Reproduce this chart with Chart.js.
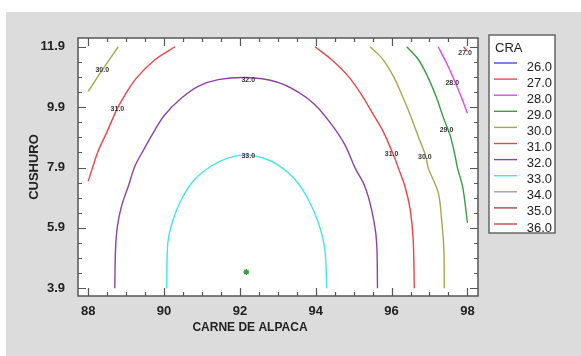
<!DOCTYPE html>
<html>
<head>
<meta charset="utf-8">
<script src="https://cdn.jsdelivr.net/npm/chart.js@4/dist/chart.umd.min.js"></script>
<style>
  html, body { margin: 0; padding: 0; background: #ffffff; }
  #wrap { width: 581px; height: 356px; }
</style>
</head>
<body>
<div id="wrap"><canvas id="cv" width="581" height="356"></canvas></div>
<script>
// Contour levels of CRA and the colour used for each level
const levels = ['26.0', '27.0', '28.0', '29.0', '30.0', '31.0', '32.0', '33.0', '34.0', '35.0', '36.0'];
const levelColors = ['#4a4ad0', '#e8484c', '#e048e4', '#3c9c46', '#a6a84a', '#e8464a', '#8c44a4', '#44e6e6', '#9a9ad4', '#a04c4c', '#c44c50'];

// Axis ticks
const xMajor = [88, 90, 92, 94, 96, 98];
const yMajor = [3.9, 5.9, 7.9, 9.9, 11.9];

// Contour traces: CARNE DE ALPACA (x) and CUSHURO (y)
const c27x = [97.90, 98.00];
const c27y = [11.90, 11.75];

const c28x = [97.23, 97.45, 97.67, 97.85, 98.00];
const c28y = [11.90, 11.36, 10.75, 10.20, 9.70];

const c29x = [96.40, 96.71, 96.97, 97.19, 97.37, 97.54, 97.67, 97.74, 97.87, 97.94, 98.00];
const c29y = [11.90, 11.47, 10.86, 10.20, 9.54, 8.99, 8.32, 7.88, 7.29, 6.70, 6.07];

const c30ax = [88.00, 88.35, 88.79];
const c30ay = [10.42, 11.09, 11.90];
const c30bx = [95.43, 95.74, 96.05, 96.27, 96.49, 96.72, 96.89, 96.97, 97.23, 97.32, 97.38, 97.39];
const c30by = [11.90, 11.53, 10.92, 10.31, 9.65, 8.88, 8.32, 7.88, 7.07, 6.18, 5.19, 3.90];

const c31ax = [88.00, 88.11, 88.26, 88.48, 88.75, 88.97, 89.27, 89.76, 90.29];
const c31ay = [7.45, 7.88, 8.44, 9.04, 9.81, 10.31, 10.86, 11.47, 11.90];
const c31bx = [93.98, 94.42, 94.86, 95.21, 95.52, 95.78, 96.05, 96.18, 96.35, 96.49, 96.57, 96.60];
const c31by = [11.90, 11.47, 10.92, 10.31, 9.65, 9.09, 8.32, 7.88, 7.29, 6.52, 5.52, 3.90];

const c32x = [88.70, 88.72, 88.77, 88.88, 89.06, 89.23, 89.49, 89.76, 90.02, 90.46, 90.90, 91.43, 92.17, 92.95, 93.54, 93.98, 94.42, 94.77, 95.04, 95.29, 95.47, 95.60, 95.63];
const c32y = [3.90, 5.19, 5.96, 6.63, 7.29, 7.94, 8.55, 9.15, 9.65, 10.20, 10.59, 10.81, 10.88, 10.74, 10.40, 9.98, 9.32, 8.65, 7.88, 7.29, 6.52, 5.52, 3.90];

const c33x = [90.07, 90.10, 90.24, 90.46, 90.81, 91.25, 91.70, 92.17, 92.65, 93.01, 93.45, 93.80, 94.07, 94.24, 94.29];
const c33y = [3.90, 5.41, 6.18, 6.85, 7.51, 7.95, 8.22, 8.32, 8.20, 7.98, 7.51, 6.85, 6.07, 5.19, 3.90];

// Stationary point of the fitted surface
const optX = [92.17];
const optY = [4.44];

// In-plot contour labels
const labelText = ['30.0', '31.0', '32.0', '33.0', '31.0', '30.0', '29.0', '28.0', '27.0'];
const labelX = [88.37, 88.77, 92.22, 92.22, 96.00, 96.88, 97.45, 97.60, 97.94];
const labelY = [11.13, 9.85, 10.79, 8.27, 8.35, 8.24, 9.13, 10.70, 11.69];

const FONT = '"Liberation Sans", Arial, Helvetica, sans-serif';

function pts(xs, ys) { return xs.map((x, i) => ({ x: x, y: ys[i] })); }
function contour(xs, ys, level) {
  return {
    data: pts(xs, ys),
    showLine: true,
    borderColor: levelColors[levels.indexOf(level)],
    borderWidth: 1.4,
    pointRadius: 0,
    tension: 0.35,
    fill: false
  };
}

const datasets = [
  contour(c27x, c27y, '27.0'),
  contour(c28x, c28y, '28.0'),
  contour(c29x, c29y, '29.0'),
  contour(c30ax, c30ay, '30.0'),
  contour(c30bx, c30by, '30.0'),
  contour(c31ax, c31ay, '31.0'),
  contour(c31bx, c31by, '31.0'),
  contour(c32x, c32y, '32.0'),
  contour(c33x, c33y, '33.0'),
  {
    data: pts(optX, optY),
    showLine: false,
    pointStyle: 'star',
    pointRadius: 3,
    borderWidth: 1.4,
    borderColor: '#3c9c46',
    backgroundColor: '#3c9c46'
  }
];

// Grey panel, white plotting area
const panelPlugin = {
  id: 'panel',
  beforeDraw(chart) {
    const c = chart.ctx, a = chart.chartArea;
    c.save();
    c.fillStyle = '#ffffff';
    c.fillRect(0, 0, chart.width, chart.height);
    c.fillStyle = '#dcdcdc';
    c.fillRect(6, 12, chart.width - 6, chart.height - 12);
    c.fillStyle = '#ffffff';
    c.fillRect(a.left, a.top, a.right - a.left, a.bottom - a.top);
    c.restore();
  }
};

// Frame with inward ticks on all four sides, contour labels, axis titles, legend
const overlayPlugin = {
  id: 'overlay',
  afterDraw(chart) {
    const c = chart.ctx, a = chart.chartArea;
    const xs = chart.scales.x, ys = chart.scales.y;
    c.save();

    // contour labels
    c.fillStyle = '#333333';
    c.font = 'bold 7px ' + FONT;
    c.textAlign = 'center';
    c.textBaseline = 'middle';
    labelText.forEach((t, i) => {
      c.fillText(t, xs.getPixelForValue(labelX[i]), ys.getPixelForValue(labelY[i]));
    });

    // frame
    c.strokeStyle = '#555555';
    c.lineWidth = 1.5;
    c.strokeRect(a.left, a.top, a.right - a.left, a.bottom - a.top);

    // ticks
    c.lineWidth = 1.2;
    c.beginPath();
    for (let v = xMajor[0]; v <= xMajor[xMajor.length - 1] + 1e-6; v += 0.5) {
      const px = Math.round(xs.getPixelForValue(v)) + 0.5;
      const major = xMajor.some(m => Math.abs(m - v) < 1e-6);
      const len = major ? 8 : 4;
      c.moveTo(px, a.bottom); c.lineTo(px, a.bottom - len);
      c.moveTo(px, a.top); c.lineTo(px, a.top + len);
    }
    for (let v = yMajor[0]; v <= yMajor[yMajor.length - 1] + 1e-6; v += 0.5) {
      const py = Math.round(ys.getPixelForValue(v)) + 0.5;
      const major = yMajor.some(m => Math.abs(m - v) < 1e-6);
      const len = major ? 8 : 4;
      c.moveTo(a.left, py); c.lineTo(a.left + len, py);
      c.moveTo(a.right, py); c.lineTo(a.right - len, py);
    }
    c.stroke();

    // axis titles
    c.fillStyle = '#222222';
    c.font = 'bold 12px ' + FONT;
    c.textAlign = 'center';
    c.textBaseline = 'middle';
    c.fillText('CARNE DE ALPACA', 250, 328);
    c.save();
    c.translate(34, (a.top + a.bottom) / 2);
    c.rotate(-Math.PI / 2);
    c.font = 'bold 13px ' + FONT;
    c.fillText('CUSHURO', 0, 0);
    c.restore();

    // legend
    const lx = 489, ly = 35, lw = 66, lh = 198;
    c.fillStyle = '#ffffff';
    c.fillRect(lx, ly, lw, lh);
    c.strokeStyle = '#666666';
    c.lineWidth = 1.5;
    c.strokeRect(lx, ly, lw, lh);
    c.fillStyle = '#222222';
    c.font = '13px ' + FONT;
    c.textAlign = 'left';
    c.fillText('CRA', 495, 48);
    c.textAlign = 'right';
    levels.forEach((lv, i) => {
      const yy = 63 + i * 16.1;
      c.strokeStyle = levelColors[i];
      c.lineWidth = 1.4;
      c.beginPath();
      c.moveTo(494, yy); c.lineTo(517, yy);
      c.stroke();
      c.fillText(lv, 552, yy + 4);
    });

    c.restore();
  }
};

new Chart(document.getElementById('cv'), {
  type: 'scatter',
  data: { datasets: datasets },
  options: {
    responsive: false,
    animation: false,
    events: [],
    layout: { padding: { top: 38, right: 103, left: 0, bottom: 0 } },
    plugins: { legend: { display: false }, tooltip: { enabled: false } },
    scales: {
      x: {
        type: 'linear',
        min: 87.73,
        max: 98.28,
        grid: { display: false, drawTicks: false },
        border: { display: false },
        ticks: {
          padding: 8,
          color: '#222222',
          font: { family: FONT, size: 13, weight: 'bold' },
          callback: v => String(v)
        },
        afterBuildTicks(s) { s.ticks = xMajor.map(v => ({ value: v })); },
        afterFit(s) { s.height = 60; }
      },
      y: {
        type: 'linear',
        min: 3.645,
        max: 12.19,
        grid: { display: false, drawTicks: false },
        border: { display: false },
        ticks: {
          padding: 13,
          color: '#222222',
          font: { family: FONT, size: 13, weight: 'bold' },
          callback: v => Number(v).toFixed(1)
        },
        afterBuildTicks(s) { s.ticks = yMajor.map(v => ({ value: v })); },
        afterFit(s) { s.width = 78; }
      }
    }
  },
  plugins: [panelPlugin, overlayPlugin]
});
</script>
</body>
</html>
